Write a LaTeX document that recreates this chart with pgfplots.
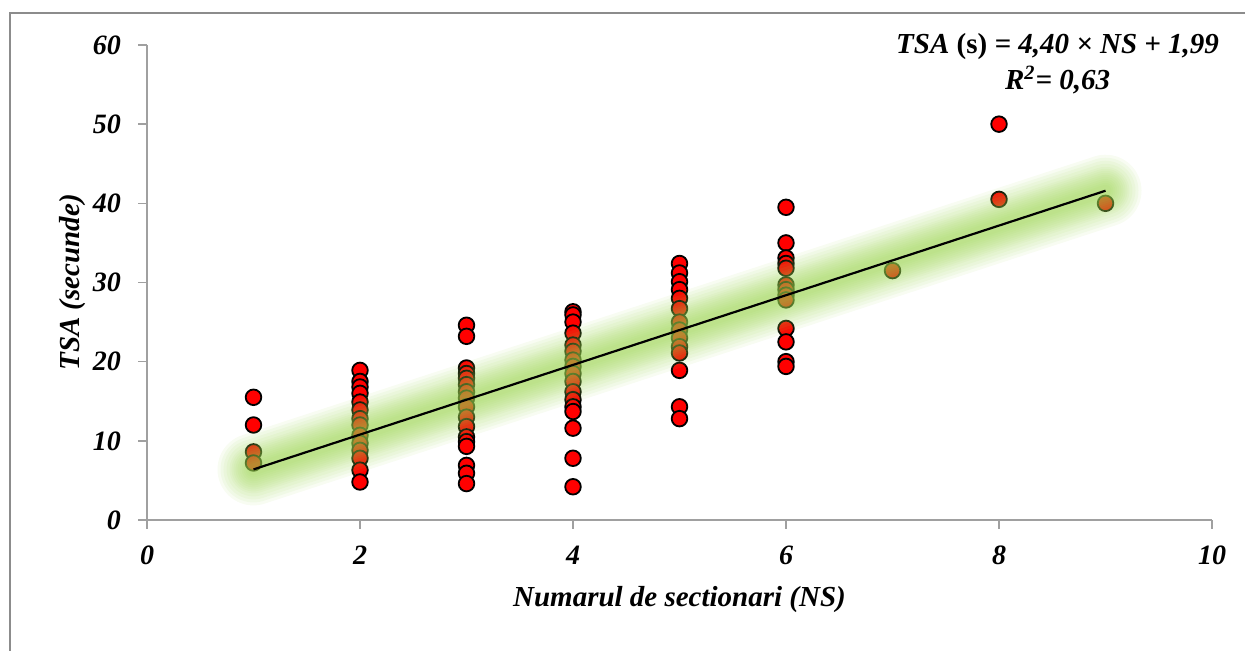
\documentclass[border=0pt]{standalone}
\usepackage{fontspec}
\setmainfont{Liberation Serif}
\usepackage{pgfplots}
\pgfplotsset{compat=1.18}
\definecolor{glow}{RGB}{155,212,80}
\definecolor{axgray}{RGB}{160,160,160}
\definecolor{ptred}{RGB}{255,0,0}
\begin{document}
\begin{tikzpicture}
\useasboundingbox (-73.5pt,-65.5pt) rectangle (549pt,260pt);
\draw[color={rgb,255:red,140;green,140;blue,140}, line width=1pt] (-68.5pt,-70pt) -- (-68.5pt,253.5pt) -- (560pt,253.5pt);
\begin{axis}[
  scale only axis,
  width=532.5pt, height=237.5pt,
  xmin=0, xmax=10, ymin=0, ymax=60,
  xtick={0,2,...,10}, ytick={0,10,...,60},
  axis x line*=bottom, axis y line*=left,
  axis line style={axgray, line width=0.8pt, -},
  tick style={axgray, line width=0.8pt},
  tick align=outside, major tick length=4.5pt,
  /pgf/number format/assume math mode=true,
  tick label style={font=\fontsize{14}{16}\selectfont\bfseries\itshape},
  xticklabel style={yshift=-5pt},
  yticklabel style={xshift=-5pt},
  label style={font=\fontsize{14.5}{17}\selectfont\bfseries\itshape},
  xlabel={Numarul de sectionari (NS)},
  ylabel={TSA (secunde)},
  xlabel style={yshift=-4pt},
  ylabel style={yshift=-3pt},
  clip=false,
  clip marker paths=true,
]
\addplot[only marks, mark=*, mark size=3.9pt, mark options={fill=ptred, draw=black, line width=0.9pt}] coordinates {
 (1,15.5) (1,12.0) (1,8.6) (1,7.2)
 (2,18.9) (2,17.5) (2,16.8) (2,16.0) (2,14.9) (2,13.9) (2,12.8) (2,12.0) (2,10.7) (2,9.7) (2,8.8) (2,7.8) (2,6.3) (2,4.8)
 (3,24.6) (3,23.2) (3,19.2) (3,18.5) (3,17.9) (3,17.1) (3,16.2) (3,15.4) (3,14.3) (3,13.0) (3,11.8) (3,10.5) (3,9.9) (3,9.3) (3,6.9) (3,5.9) (3,4.6)
 (4,26.3) (4,25.9) (4,25.0) (4,23.6) (4,22.1) (4,21.3) (4,20.2) (4,19.4) (4,18.5) (4,17.5) (4,16.2) (4,15.2) (4,14.3) (4,13.7) (4,11.6) (4,7.8) (4,4.2)
 (5,32.4) (5,31.2) (5,30.1) (5,29.1) (5,28.0) (5,26.7) (5,25.0) (5,24.0) (5,23.0) (5,21.9) (5,21.1) (5,18.9) (5,14.3) (5,12.8)
 (6,39.5) (6,35.0) (6,33.1) (6,32.4) (6,31.8) (6,29.7) (6,29.1) (6,28.4) (6,27.8) (6,24.2) (6,22.5) (6,20.0) (6,19.4)
 (7,31.5)
 (8,50.0) (8,40.5)
 (9,40.0)
};
\pgfplotsinvokeforeach{36,33,30,27,24,22,20,18,16,14,12,10,8,6}{
  \addplot[glow, opacity=0.075, line width=#1pt, line cap=round, no marks] coordinates {(1,6.39) (9,41.59)};
}
\addplot[black, line width=1.1pt, no marks] coordinates {(1,6.39) (9,41.59)};
\node[font=\fontsize{14.5}{17}\selectfont\bfseries, align=center, anchor=north] at (axis cs:8.55,62.3)
  {\itshape TSA \upshape(s)\itshape\ = 4,40 × NS + 1,99\\[1pt]\itshape R\textsuperscript{2}= 0,63};
\end{axis}
\end{tikzpicture}
\end{document}
